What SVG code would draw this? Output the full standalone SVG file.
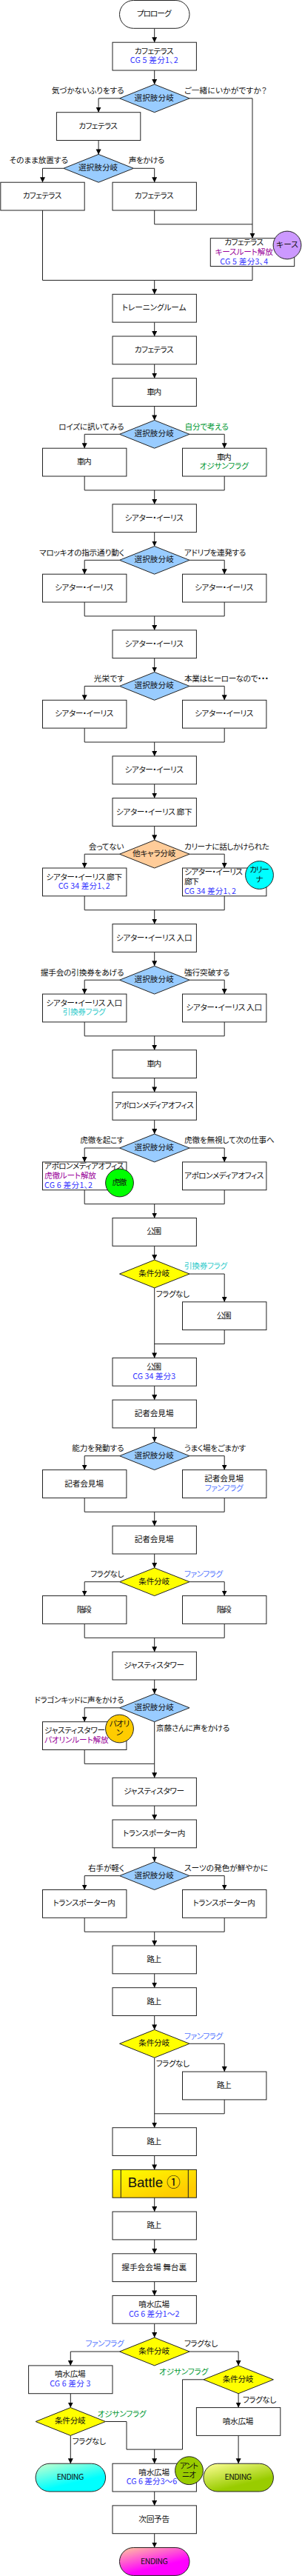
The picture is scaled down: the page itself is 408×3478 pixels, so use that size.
<svg xmlns="http://www.w3.org/2000/svg" width="408" height="3478" viewBox="0 0 408 3478">
<style>
text{font-family:"Noto Sans CJK JP","Noto Sans CJK SC",sans-serif;font-size:10.67px;fill:#111;font-feature-settings:"palt";}
.c{text-anchor:middle}
.e{text-anchor:end}
.b{fill:#fff;stroke:#222;stroke-width:1}
.s{fill:#9cf;stroke:#222;stroke-width:1}
.y{fill:#ff0;stroke:#222;stroke-width:1}
.o{fill:#fc9;stroke:#222;stroke-width:1}
.l{fill:none;stroke:#222;stroke-width:1}
.cg{fill:#33f}
.pu{fill:#909}
.gr{fill:#093}
.cy{fill:#3cc}
.fa{fill:#57f}
</style>
<defs>
<marker id="a" markerUnits="userSpaceOnUse" markerWidth="8" markerHeight="8" refX="7" refY="3.5" orient="auto"><path d="M0 0L7 3.5L0 7Z" fill="#000"/></marker>
<linearGradient id="gB" x1="0" y1="0" x2="1" y2="1"><stop offset="0" stop-color="#ff0"/><stop offset=".8" stop-color="#fc0"/></linearGradient>
<linearGradient id="gC" x1="0" y1="0" x2=".6" y2="1"><stop offset="0" stop-color="#cfc"/><stop offset=".75" stop-color="#0ff"/></linearGradient>
<linearGradient id="gG" x1="0" y1="0" x2=".6" y2="1"><stop offset="0" stop-color="#ff9"/><stop offset=".8" stop-color="#9c0"/></linearGradient>
<linearGradient id="gM" x1="0" y1="0" x2=".6" y2="1"><stop offset="0" stop-color="#fc9"/><stop offset=".75" stop-color="#f0f"/></linearGradient>
</defs>
<g id="connectors">
<path class="l" marker-end="url(#a)" d="M208.7 38.3V57.2"/>
<path class="l" marker-end="url(#a)" d="M208.7 95V113.9"/>
<path class="l" marker-end="url(#a)" d="M161.5 132.8H133.1V151.7"/>
<path class="l" marker-end="url(#a)" d="M256 132.8H341V321.7"/>
<path class="l" marker-end="url(#a)" d="M133.1 189.5V208.4"/>
<path class="l" marker-end="url(#a)" d="M85.9 227.3H57.5V246.2"/>
<path class="l" marker-end="url(#a)" d="M180.4 227.3H208.7V246.2"/>
<path class="l" d="M57.5 283.9V378.4H341V359.5"/>
<path class="l" d="M208.7 283.9V302.8H341"/>
<path class="l" marker-end="url(#a)" d="M208.7 378.4V397.3"/>
<path class="l" marker-end="url(#a)" d="M208.7 435.1V454"/>
<path class="l" marker-end="url(#a)" d="M208.7 491.8V510.7"/>
<path class="l" marker-end="url(#a)" d="M208.7 548.5V567.4"/>
<path class="l" marker-end="url(#a)" d="M161.5 586.3H114.2V605.2"/>
<path class="l" marker-end="url(#a)" d="M256 586.3H303.2V605.2"/>
<path class="l" d="M114.2 643V661.9H303.2V643"/>
<path class="l" marker-end="url(#a)" d="M208.7 661.9V680.8"/>
<path class="l" marker-end="url(#a)" d="M208.7 718.6V737.5"/>
<path class="l" marker-end="url(#a)" d="M161.5 756.3H114.2V775.2"/>
<path class="l" marker-end="url(#a)" d="M256 756.3H303.2V775.2"/>
<path class="l" d="M114.2 813V831.9H303.2V813"/>
<path class="l" marker-end="url(#a)" d="M208.7 831.9V850.8"/>
<path class="l" marker-end="url(#a)" d="M208.7 888.6V907.5"/>
<path class="l" marker-end="url(#a)" d="M161.5 926.4H114.2V945.3"/>
<path class="l" marker-end="url(#a)" d="M256 926.4H303.2V945.3"/>
<path class="l" d="M114.2 983.1V1002H303.2V983.1"/>
<path class="l" marker-end="url(#a)" d="M208.7 1002V1020.9"/>
<path class="l" marker-end="url(#a)" d="M208.7 1058.7V1077.6"/>
<path class="l" marker-end="url(#a)" d="M208.7 1115.4V1134.3"/>
<path class="l" marker-end="url(#a)" d="M161.5 1153.2H114.2V1172"/>
<path class="l" marker-end="url(#a)" d="M256 1153.2H303.2V1172"/>
<path class="l" d="M114.2 1209.8V1228.7H303.2V1209.8"/>
<path class="l" marker-end="url(#a)" d="M208.7 1228.7V1247.6"/>
<path class="l" marker-end="url(#a)" d="M208.7 1285.4V1304.3"/>
<path class="l" marker-end="url(#a)" d="M161.5 1323.2H114.2V1342.1"/>
<path class="l" marker-end="url(#a)" d="M256 1323.2H303.2V1342.1"/>
<path class="l" d="M114.2 1379.9V1398.8H303.2V1379.9"/>
<path class="l" marker-end="url(#a)" d="M208.7 1398.8V1417.7"/>
<path class="l" marker-end="url(#a)" d="M208.7 1455.5V1474.4"/>
<path class="l" marker-end="url(#a)" d="M208.7 1512.2V1531.1"/>
<path class="l" marker-end="url(#a)" d="M161.5 1550H114.2V1568.9"/>
<path class="l" marker-end="url(#a)" d="M256 1550H303.2V1568.9"/>
<path class="l" d="M114.2 1606.7V1625.6H303.2V1606.7"/>
<path class="l" marker-end="url(#a)" d="M208.7 1625.6V1644.5"/>
<path class="l" marker-end="url(#a)" d="M208.7 1682.2V1701.1"/>
<path class="l" marker-end="url(#a)" d="M256 1720H303.2V1757.8"/>
<path class="l" marker-end="url(#a)" d="M208.7 1738.9V1833.4"/>
<path class="l" d="M303.2 1795.6V1814.5H208.7"/>
<path class="l" marker-end="url(#a)" d="M208.7 1871.2V1890.1"/>
<path class="l" marker-end="url(#a)" d="M208.7 1927.9V1946.8"/>
<path class="l" marker-end="url(#a)" d="M161.5 1965.7H114.2V1984.6"/>
<path class="l" marker-end="url(#a)" d="M256 1965.7H303.2V1984.6"/>
<path class="l" d="M114.2 2022.4V2041.3H303.2V2022.4"/>
<path class="l" marker-end="url(#a)" d="M208.7 2041.3V2060.2"/>
<path class="l" marker-end="url(#a)" d="M208.7 2098V2116.9"/>
<path class="l" marker-end="url(#a)" d="M161.5 2135.7H114.2V2154.6"/>
<path class="l" marker-end="url(#a)" d="M256 2135.7H303.2V2154.6"/>
<path class="l" d="M114.2 2192.4V2211.3H303.2V2192.4"/>
<path class="l" marker-end="url(#a)" d="M208.7 2211.3V2230.2"/>
<path class="l" marker-end="url(#a)" d="M208.7 2268V2286.9"/>
<path class="l" marker-end="url(#a)" d="M161.5 2305.8H114.2V2324.7"/>
<path class="l" marker-end="url(#a)" d="M208.7 2324.7V2400.3"/>
<path class="l" d="M114.2 2362.5V2381.4H208.7"/>
<path class="l" marker-end="url(#a)" d="M208.7 2438.1V2457"/>
<path class="l" marker-end="url(#a)" d="M208.7 2494.8V2513.7"/>
<path class="l" marker-end="url(#a)" d="M161.5 2532.6H114.2V2551.5"/>
<path class="l" marker-end="url(#a)" d="M256 2532.6H303.2V2551.5"/>
<path class="l" d="M114.2 2589.3V2608.2H303.2V2589.3"/>
<path class="l" marker-end="url(#a)" d="M208.7 2608.2V2627"/>
<path class="l" marker-end="url(#a)" d="M208.7 2664.8V2683.7"/>
<path class="l" marker-end="url(#a)" d="M208.7 2721.5V2740.4"/>
<path class="l" marker-end="url(#a)" d="M256 2759.3H303.2V2797.1"/>
<path class="l" marker-end="url(#a)" d="M208.7 2778.2V2872.7"/>
<path class="l" d="M303.2 2834.9V2853.8H208.7"/>
<path class="l" marker-end="url(#a)" d="M208.7 2910.5V2929.4"/>
<path class="l" marker-end="url(#a)" d="M208.7 2967.2V2986.1"/>
<path class="l" marker-end="url(#a)" d="M208.7 3023.9V3042.8"/>
<path class="l" marker-end="url(#a)" d="M208.7 3080.6V3099.4"/>
<path class="l" marker-end="url(#a)" d="M208.7 3137.2V3156.1"/>
<path class="l" marker-end="url(#a)" d="M161.5 3175H95.3V3193.9"/>
<path class="l" marker-end="url(#a)" d="M256 3175H322.1V3193.9"/>
<path class="l" marker-end="url(#a)" d="M95.3 3231.7V3250.6"/>
<path class="l" marker-end="url(#a)" d="M322.1 3231.7V3250.6"/>
<path class="l" marker-end="url(#a)" d="M95.3 3288.4V3326.2"/>
<path class="l" marker-end="url(#a)" d="M322.1 3288.4V3326.2"/>
<path class="l" d="M274.9 3212.8H246.5V3307.1H171V3269.5H142.6"/>
<path class="l" marker-end="url(#a)" d="M208.7 3307.1V3326.2"/>
<path class="l" marker-end="url(#a)" d="M208.7 3364V3382.9"/>
<path class="l" marker-end="url(#a)" d="M208.7 3420.7V3439.6"/>
</g>
<g id="edge-labels">
<text class="e" x="167.5" y="126.2" textLength="97.7">気づかないふりをする</text><text x="249" y="126.2" textLength="111.7">ご一緒にいかがですか？</text>
<text class="e" x="92" y="220.4" textLength="79.3">そのまま放置する</text><text x="173.7" y="220.4" textLength="48.7">声をかける</text>
<text class="e" x="167.5" y="579.7" textLength="88.3">ロイズに訊いてみる</text><text class="gr" x="249.5" y="579.7" textLength="59.3">自分で考える</text>
<text class="e" x="168" y="749.7" textLength="115">マロッキオの指示通り動く</text><text x="249" y="749.7" textLength="83.3">アドリブを連発する</text>
<text class="e" x="168" y="919.8" textLength="41.3">光栄です</text><text x="249" y="919.8" textLength="114">本業はヒーローなので・・・</text>
<text class="e" x="167.5" y="1146.6" textLength="47.7">会ってない</text><text x="249" y="1146.6" textLength="115">カリーナに話しかけられた</text>
<text class="e" x="167.5" y="1316.6" textLength="112.7">握手会の引換券をあげる</text><text x="249" y="1316.6" textLength="61.3">強行突破する</text>
<text class="e" x="167.5" y="1543.4" textLength="59.3">虎徹を起こす</text><text x="249" y="1543.4" textLength="121.7">虎徹を無視して次の仕事へ</text>
<text class="cy" x="249" y="1713.4" textLength="58">引換券フラグ</text><text x="210.7" y="1750.7" textLength="45.3">フラグなし</text>
<text class="e" x="167.5" y="1959" textLength="70.3">能力を発動する</text><text x="249" y="1959" textLength="83.3">うまく場をごまかす</text>
<text class="e" x="167.5" y="2129" textLength="45.3">フラグなし</text><text class="fa" x="249" y="2129" textLength="52">ファンフラグ</text>
<text class="e" x="167.5" y="2299.2" textLength="121">ドラゴンキッドに声をかける</text><text x="211" y="2336.8" textLength="99.3">斎藤さんに声をかける</text>
<text class="e" x="168" y="2526" textLength="49">右手が軽く</text><text x="249" y="2526" textLength="113">スーツの発色が鮮やかに</text>
<text class="fa" x="249" y="2752.7" textLength="52">ファンフラグ</text><text x="210.7" y="2790.4" textLength="45.3">フラグなし</text>
<text class="e fa" x="167.5" y="3168.4" textLength="52">ファンフラグ</text><text x="249" y="3168.4" textLength="45.3">フラグなし</text>
<text class="gr" x="215" y="3205.8" textLength="66.3">オジサンフラグ</text><text x="328" y="3243.7" textLength="45.3">フラグなし</text>
<text class="gr" x="131.7" y="3262.6" textLength="66">オジサンフラグ</text><text x="97.7" y="3299.6" textLength="45.3">フラグなし</text>
</g>
<g id="n1"><rect class="b" x="161.5" y=".5" width="94.5" height="37.8" rx="18.9"/><text class="c" x="208.2" y="22.4" textLength="46.7">プロローグ</text></g>
<g id="n2"><rect class="b" x="152" y="57.2" width="113.4" height="37.8"/><text class="c" x="208.2" y="72.7" textLength="52.7">カフェテラス</text><text class="c cg" x="208.2" y="85.4" textLength="65">CG 5 差分1、2</text></g>
<g id="d1"><path class="s" d="M208.7 113.9L256 132.8L208.7 151.7L161.5 132.8Z"/><text class="c" x="208.2" y="135.7" textLength="53.3">選択肢分岐</text></g>
<g id="n3"><rect class="b" x="76.4" y="151.7" width="113.4" height="37.8"/><text class="c" x="132.6" y="173.6" textLength="52.7">カフェテラス</text></g>
<g id="d2"><path class="s" d="M133.1 208.4L180.4 227.3L133.1 246.2L85.9 227.3Z"/><text class="c" x="132.6" y="230.2" textLength="53.3">選択肢分岐</text></g>
<g id="n4"><rect class="b" x=".8" y="246.2" width="113.4" height="37.8"/><text class="c" x="57" y="268.1" textLength="52.7">カフェテラス</text></g>
<g id="n5"><rect class="b" x="152" y="246.2" width="113.4" height="37.8"/><text class="c" x="208.2" y="268.1" textLength="52.7">カフェテラス</text></g>
<g id="n6"><rect class="b" x="284.3" y="321.7" width="113.4" height="37.8"/><text class="c" x="329.7" y="331" textLength="52.7">カフェテラス</text><text class="c pu" x="329.7" y="343.7" textLength="78.3">キースルート解放</text><text class="c cg" x="329.7" y="356.7" textLength="65">CG 5 差分3、4</text></g>
<g id="c1"><circle cx="388" cy="331" r="18.9" fill="#c9f" stroke="#222"/><text class="c" x="388" y="334.3" textLength="30">キース</text></g>
<g id="n7"><rect class="b" x="152" y="397.3" width="113.4" height="37.8"/><text class="c" x="208.2" y="419.2" textLength="86.7">トレーニングルーム</text></g>
<g id="n8"><rect class="b" x="152" y="454" width="113.4" height="37.8"/><text class="c" x="208.2" y="475.9" textLength="52.7">カフェテラス</text></g>
<g id="n9"><rect class="b" x="152" y="510.7" width="113.4" height="37.8"/><text class="c" x="208.2" y="532.6" textLength="20">車内</text></g>
<g id="d3"><path class="s" d="M208.7 567.4L256 586.3L208.7 605.2L161.5 586.3Z"/><text class="c" x="208.2" y="589.2" textLength="53.3">選択肢分岐</text></g>
<g id="n10"><rect class="b" x="57.5" y="605.2" width="113.4" height="37.8"/><text class="c" x="113.7" y="627.1" textLength="20">車内</text></g>
<g id="n11"><rect class="b" x="246.5" y="605.2" width="113.4" height="37.8"/><text class="c" x="302.7" y="620.7" textLength="20">車内</text><text class="c gr" x="302.7" y="633.4" textLength="66.3">オジサンフラグ</text></g>
<g id="n12"><rect class="b" x="152" y="680.8" width="113.4" height="37.8"/><text class="c" x="208.2" y="702.7" textLength="79.3">シアター・イーリス</text></g>
<g id="d4"><path class="s" d="M208.7 737.5L256 756.3L208.7 775.2L161.5 756.3Z"/><text class="c" x="208.2" y="759.2" textLength="53.3">選択肢分岐</text></g>
<g id="n13"><rect class="b" x="57.5" y="775.2" width="113.4" height="37.8"/><text class="c" x="113.7" y="797.1" textLength="79.3">シアター・イーリス</text></g>
<g id="n14"><rect class="b" x="246.5" y="775.2" width="113.4" height="37.8"/><text class="c" x="302.7" y="797.1" textLength="79.3">シアター・イーリス</text></g>
<g id="n15"><rect class="b" x="152" y="850.8" width="113.4" height="37.8"/><text class="c" x="208.2" y="872.7" textLength="79.3">シアター・イーリス</text></g>
<g id="d5"><path class="s" d="M208.7 907.5L256 926.4L208.7 945.3L161.5 926.4Z"/><text class="c" x="208.2" y="929.3" textLength="53.3">選択肢分岐</text></g>
<g id="n16"><rect class="b" x="57.5" y="945.3" width="113.4" height="37.8"/><text class="c" x="113.7" y="967.2" textLength="79.3">シアター・イーリス</text></g>
<g id="n17"><rect class="b" x="246.5" y="945.3" width="113.4" height="37.8"/><text class="c" x="302.7" y="967.2" textLength="79.3">シアター・イーリス</text></g>
<g id="n18"><rect class="b" x="152" y="1020.9" width="113.4" height="37.8"/><text class="c" x="208.2" y="1042.8" textLength="79.3">シアター・イーリス</text></g>
<g id="n19"><rect class="b" x="152" y="1077.6" width="113.4" height="37.8"/><text class="c" x="208.2" y="1099.5" textLength="102.7">シアター・イーリス 廊下</text></g>
<g id="d6"><path class="o" d="M208.7 1134.3L256 1153.2L208.7 1172L161.5 1153.2Z"/><text class="c" x="208.2" y="1156.1" textLength="58.3">他キャラ分岐</text></g>
<g id="n20"><rect class="b" x="57.5" y="1172" width="113.4" height="37.8"/><text class="c" x="113.7" y="1187.5" textLength="102.7">シアター・イーリス 廊下</text><text class="c cg" x="113.7" y="1200.2" textLength="70">CG 34 差分1、2</text></g>
<g id="n21"><rect class="b" x="246.5" y="1172" width="113.4" height="37.8"/><text x="249" y="1181" textLength="79">シアター・イーリス</text><text x="249" y="1193.7" textLength="20">廊下</text><text class="cg" x="249" y="1207" textLength="70">CG 34 差分1、2</text></g>
<g id="c2"><circle cx="350.5" cy="1181.5" r="18.9" fill="#0ff" stroke="#222"/><text class="c" x="350.5" y="1178" textLength="26.7">カリー</text><text class="c" x="350.5" y="1190.7">ナ</text></g>
<g id="n22"><rect class="b" x="152" y="1247.6" width="113.4" height="37.8"/><text class="c" x="208.2" y="1269.5" textLength="102.7">シアター・イーリス 入口</text></g>
<g id="d7"><path class="s" d="M208.7 1304.3L256 1323.2L208.7 1342.1L161.5 1323.2Z"/><text class="c" x="208.2" y="1326.1" textLength="53.3">選択肢分岐</text></g>
<g id="n23"><rect class="b" x="57.5" y="1342.1" width="113.4" height="37.8"/><text class="c" x="113.7" y="1357.6" textLength="102.7">シアター・イーリス 入口</text><text class="c cy" x="113.7" y="1370.3" textLength="58">引換券フラグ</text></g>
<g id="n24"><rect class="b" x="246.5" y="1342.1" width="113.4" height="37.8"/><text class="c" x="302.7" y="1364" textLength="102.7">シアター・イーリス 入口</text></g>
<g id="n25"><rect class="b" x="152" y="1417.7" width="113.4" height="37.8"/><text class="c" x="208.2" y="1439.6" textLength="20">車内</text></g>
<g id="n26"><rect class="b" x="152" y="1474.4" width="113.4" height="37.8"/><text class="c" x="208.2" y="1496.3" textLength="107.3">アポロンメディアオフィス</text></g>
<g id="d8"><path class="s" d="M208.7 1531.1L256 1550L208.7 1568.9L161.5 1550Z"/><text class="c" x="208.2" y="1552.9" textLength="53.3">選択肢分岐</text></g>
<g id="n27"><rect class="b" x="57.5" y="1568.9" width="113.4" height="37.8"/><text x="60" y="1578" textLength="107.3">アポロンメディアオフィス</text><text class="pu" x="60" y="1590.7" textLength="70">虎徹ルート解放</text><text class="cg" x="60" y="1603.7" textLength="65">CG 6 差分1、2</text></g>
<g id="n28"><rect class="b" x="246.5" y="1568.9" width="113.4" height="37.8"/><text class="c" x="302.7" y="1590.8" textLength="107.3">アポロンメディアオフィス</text></g>
<g id="c3"><circle cx="161.5" cy="1597" r="18.9" fill="#0f0" stroke="#222"/><text class="c" x="161.5" y="1599.7" textLength="20">虎徹</text></g>
<g id="n29"><rect class="b" x="152" y="1644.5" width="113.4" height="37.8"/><text class="c" x="208.2" y="1666.4" textLength="20">公園</text></g>
<g id="d9"><path class="y" d="M208.7 1701.1L256 1720L208.7 1738.9L161.5 1720Z"/><text class="c" x="208.2" y="1722.9" textLength="41.7">条件分岐</text></g>
<g id="n30"><rect class="b" x="246.5" y="1757.8" width="113.4" height="37.8"/><text class="c" x="302.7" y="1779.7" textLength="20">公園</text></g>
<g id="n31"><rect class="b" x="152" y="1833.4" width="113.4" height="37.8"/><text class="c" x="208.2" y="1848.9" textLength="20">公園</text><text class="c cg" x="208.2" y="1861.6" textLength="58">CG 34 差分3</text></g>
<g id="n32"><rect class="b" x="152" y="1890.1" width="113.4" height="37.8"/><text class="c" x="208.2" y="1912" textLength="52.7">記者会見場</text></g>
<g id="d10"><path class="s" d="M208.7 1946.8L256 1965.7L208.7 1984.6L161.5 1965.7Z"/><text class="c" x="208.2" y="1968.6" textLength="53.3">選択肢分岐</text></g>
<g id="n33"><rect class="b" x="57.5" y="1984.6" width="113.4" height="37.8"/><text class="c" x="113.7" y="2006.5" textLength="52.7">記者会見場</text></g>
<g id="n34"><rect class="b" x="246.5" y="1984.6" width="113.4" height="37.8"/><text class="c" x="302.7" y="2000.1" textLength="52.7">記者会見場</text><text class="c fa" x="302.7" y="2012.8" textLength="52">ファンフラグ</text></g>
<g id="n35"><rect class="b" x="152" y="2060.2" width="113.4" height="37.8"/><text class="c" x="208.2" y="2082.1" textLength="52.7">記者会見場</text></g>
<g id="d11"><path class="y" d="M208.7 2116.9L256 2135.7L208.7 2154.6L161.5 2135.7Z"/><text class="c" x="208.2" y="2138.6" textLength="41.7">条件分岐</text></g>
<g id="n36"><rect class="b" x="57.5" y="2154.6" width="113.4" height="37.8"/><text class="c" x="113.7" y="2176.5" textLength="20">階段</text></g>
<g id="n37"><rect class="b" x="246.5" y="2154.6" width="113.4" height="37.8"/><text class="c" x="302.7" y="2176.5" textLength="20">階段</text></g>
<g id="n38"><rect class="b" x="152" y="2230.2" width="113.4" height="37.8"/><text class="c" x="208.2" y="2252.1" textLength="82">ジャスティスタワー</text></g>
<g id="d12"><path class="s" d="M208.7 2286.9L256 2305.8L208.7 2324.7L161.5 2305.8Z"/><text class="c" x="208.2" y="2308.7" textLength="53.3">選択肢分岐</text></g>
<g id="n39"><rect class="b" x="57.5" y="2324.7" width="113.4" height="37.8"/><text x="60" y="2339.8" textLength="82">ジャスティスタワー</text><text class="pu" x="60" y="2352.5" textLength="86.7">パオリンルート解放</text></g>
<g id="c4"><circle cx="161.5" cy="2334" r="18.9" fill="#fc0" stroke="#222"/><text class="c" x="161.5" y="2330.7" textLength="27.3">パオリ</text><text class="c" x="161.5" y="2343.4">ン</text></g>
<g id="n40"><rect class="b" x="152" y="2400.3" width="113.4" height="37.8"/><text class="c" x="208.2" y="2422.2" textLength="82">ジャスティスタワー</text></g>
<g id="n41"><rect class="b" x="152" y="2457" width="113.4" height="37.8"/><text class="c" x="208.2" y="2478.9" textLength="84.3">トランスポーター内</text></g>
<g id="d13"><path class="s" d="M208.7 2513.7L256 2532.6L208.7 2551.5L161.5 2532.6Z"/><text class="c" x="208.2" y="2535.5" textLength="53.3">選択肢分岐</text></g>
<g id="n42"><rect class="b" x="57.5" y="2551.5" width="113.4" height="37.8"/><text class="c" x="113.7" y="2573.4" textLength="84.3">トランスポーター内</text></g>
<g id="n43"><rect class="b" x="246.5" y="2551.5" width="113.4" height="37.8"/><text class="c" x="302.7" y="2573.4" textLength="84.3">トランスポーター内</text></g>
<g id="n44"><rect class="b" x="152" y="2627" width="113.4" height="37.8"/><text class="c" x="208.2" y="2648.9" textLength="20">路上</text></g>
<g id="n45"><rect class="b" x="152" y="2683.7" width="113.4" height="37.8"/><text class="c" x="208.2" y="2705.6" textLength="20">路上</text></g>
<g id="d14"><path class="y" d="M208.7 2740.4L256 2759.3L208.7 2778.2L161.5 2759.3Z"/><text class="c" x="208.2" y="2762.2" textLength="41.7">条件分岐</text></g>
<g id="n46"><rect class="b" x="246.5" y="2797.1" width="113.4" height="37.8"/><text class="c" x="302.7" y="2819" textLength="20">路上</text></g>
<g id="n47"><rect class="b" x="152" y="2872.7" width="113.4" height="37.8"/><text class="c" x="208.2" y="2894.6" textLength="20">路上</text></g>
<g id="n48"><rect x="152" y="2929.4" width="113.4" height="37.8" fill="url(#gB)" stroke="#222"/><path class="l" d="M163.3 2929.4V2967.2M254.3 2929.4V2967.2"/><text class="c" x="208.2" y="2953.4" textLength="71" style="font-family:'Liberation Sans','Noto Sans CJK JP',sans-serif;font-size:18.67px;font-feature-settings:normal">Battle ①</text></g>
<g id="n49"><rect class="b" x="152" y="2986.1" width="113.4" height="37.8"/><text class="c" x="208.2" y="3008" textLength="20">路上</text></g>
<g id="n50"><rect class="b" x="152" y="3042.8" width="113.4" height="37.8"/><text class="c" x="208.2" y="3064.7" textLength="88">握手会会場 舞台裏</text></g>
<g id="n51"><rect class="b" x="152" y="3099.4" width="113.4" height="37.8"/><text class="c" x="208.2" y="3114.9" textLength="41.7">噴水広場</text><text class="c cg" x="208.2" y="3127.6" textLength="68.3">CG 6 差分1～2</text></g>
<g id="d15"><path class="y" d="M208.7 3156.1L256 3175L208.7 3193.9L161.5 3175Z"/><text class="c" x="208.2" y="3177.9" textLength="41.7">条件分岐</text></g>
<g id="n52"><rect class="b" x="38.6" y="3193.9" width="113.4" height="37.8"/><text class="c" x="94.8" y="3209.4" textLength="41.7">噴水広場</text><text class="c cg" x="94.8" y="3222.1" textLength="55.3">CG 6 差分 3</text></g>
<g id="d16"><path class="y" d="M322.1 3193.9L369.4 3212.8L322.1 3231.7L274.9 3212.8Z"/><text class="c" x="321.6" y="3215.7" textLength="41.7">条件分岐</text></g>
<g id="d17"><path class="y" d="M95.3 3250.6L142.6 3269.5L95.3 3288.4L48.1 3269.5Z"/><text class="c" x="94.8" y="3272.4" textLength="41.7">条件分岐</text></g>
<g id="n53"><rect class="b" x="265.4" y="3250.6" width="113.4" height="37.8"/><text class="c" x="321.6" y="3272.5" textLength="41.7">噴水広場</text></g>
<g id="n54"><rect x="48.1" y="3326.2" width="94.5" height="37.8" rx="18.9" fill="url(#gC)" stroke="#222"/><text class="c" x="95" y="3348.1" textLength="36.7">ENDING</text></g>
<g id="n55"><rect class="b" x="152" y="3326.2" width="113.4" height="37.8"/><text class="c" x="208.2" y="3341.7" textLength="41.7">噴水広場</text><text class="c cg" x="205" y="3354.4" textLength="68.3">CG 6 差分3～6</text></g>
<g id="c5"><circle cx="255.5" cy="3335.7" r="18.9" fill="#9c0" stroke="#222"/><text class="c" x="255.5" y="3332.7" textLength="25">アント</text><text class="c" x="255.5" y="3345.4" textLength="19">ニオ</text></g>
<g id="n56"><rect x="274.9" y="3326.2" width="94.5" height="37.8" rx="18.9" fill="url(#gG)" stroke="#222"/><text class="c" x="321.8" y="3348.1" textLength="36.7">ENDING</text></g>
<g id="n57"><rect class="b" x="152" y="3382.9" width="113.4" height="37.8"/><text class="c" x="208.2" y="3404.8" textLength="41.7">次回予告</text></g>
<g id="n58"><rect x="161.5" y="3439.6" width="94.5" height="37.8" rx="18.9" fill="url(#gM)" stroke="#222"/><text class="c" x="208.4" y="3461.5" textLength="36.7">ENDING</text></g>
</svg>
